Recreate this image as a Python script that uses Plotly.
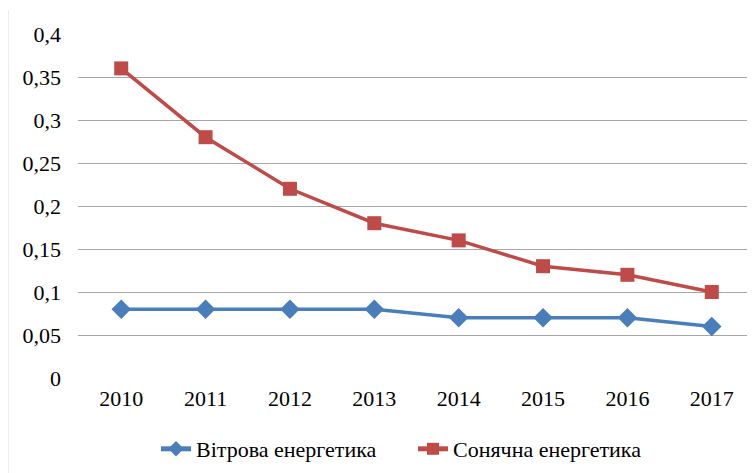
import plotly.graph_objects as go

years = ["2010", "2011", "2012", "2013", "2014", "2015", "2016", "2017"]
wind = [0.08, 0.08, 0.08, 0.08, 0.07, 0.07, 0.07, 0.06]
solar = [0.36, 0.28, 0.22, 0.18, 0.16, 0.13, 0.12, 0.10]
ytick_vals = [0, 0.05, 0.1, 0.15, 0.2, 0.25, 0.3, 0.35, 0.4]
ytick_text = ["0", "0,05", "0,1", "0,15", "0,2", "0,25", "0,3", "0,35", "0,4"]

font = "Liberation Serif"
tf = dict(family=font, size=22, color="black")

fig = go.Figure()
fig.add_trace(go.Scatter(
    x=years, y=wind, name="Вітрова енергетика", mode="lines+markers",
    line=dict(color="#4A7EBB", width=3.5),
    marker=dict(symbol="diamond", size=15, color="#4A7EBB"),
))
fig.add_trace(go.Scatter(
    x=years, y=solar, name="Сонячна енергетика", mode="lines+markers",
    line=dict(color="#BE4B48", width=3.5),
    marker=dict(symbol="square", size=14, color="#BE4B48"),
))

L, T, B = 70, 26, 95
W, H = 747, 465
PW = W - L
PH = H - T - B

fig.update_layout(
    width=W, height=H,
    margin=dict(l=L, r=0, t=T, b=B, autoexpand=False),
    paper_bgcolor="white", plot_bgcolor="white",
    font=tf,
    xaxis=dict(type="category", showgrid=False, showline=False, zeroline=False,
               ticks="", ticklabelstandoff=5, tickfont=tf),
    yaxis=dict(range=[0, 0.4], tickvals=ytick_vals, ticktext=ytick_text,
               showgrid=True, gridcolor="#A6A6A6", gridwidth=1,
               zeroline=False, showline=False, ticks="",
               ticklabelstandoff=16, tickfont=tf),
    legend=dict(orientation="h", x=(413 - 78) / PW, xanchor="center",
                y=-(428 - 378) / PH, yanchor="top", font=tf,
                itemsizing="constant", entrywidth=212, entrywidthmode="pixels"),
    showlegend=True,
)
fig.add_shape(type="line", xref="paper", yref="paper",
              x0=-L / PW, x1=-L / PW, y0=(378 - 10) / PH, y1=-(H + 8 - 378) / PH,
              line=dict(color="#D9D9D9", width=1))

fig.write_html("out.html")
